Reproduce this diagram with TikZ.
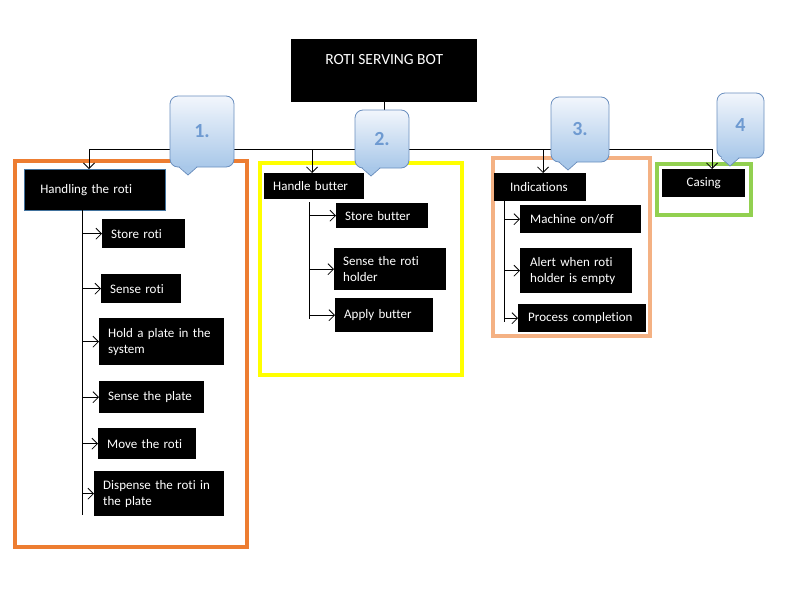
\documentclass[tikz,border=0pt]{standalone}
\usepackage{fontspec}
\setmainfont[RawFeature={-liga;-clig;-dlig;-calt}]{Carlito}
\usetikzlibrary{arrows.meta,positioning}

\definecolor{rotiorange}{HTML}{ED7D31}
\definecolor{butteryellow}{HTML}{FFFF00}
\definecolor{indpeach}{HTML}{F4B183}
\definecolor{casegreen}{HTML}{92D050}
\definecolor{tagedge}{HTML}{6A8FBF}
\definecolor{tagtop}{HTML}{F2F6FC}
\definecolor{tagbot}{HTML}{A9C8E9}
\definecolor{tagtext}{HTML}{6E9AD1}
\definecolor{handleedge}{HTML}{41719C}

\tikzset{
  blk/.style={fill=black, text=white, anchor=north west, align=left, text width=#1,
    inner xsep=9pt, inner ysep=2pt, font=\fontsize{13}{16}\selectfont},
  frame/.style={draw=#1, line width=4pt},
  link/.style={line width=0.8pt},
  arr/.style={link, -{Straight Barb[length=5.5pt,width=11pt]}},
  tagbody/.style={draw=tagedge, line width=0.8pt, top color=tagtop, bottom color=tagbot, rounded corners=8pt},
  tagnum/.style={text=tagtext, font=\bfseries\fontsize{20}{24}\selectfont}
}

\newcommand{\numtag}[6]{%
  \path[tagbody] (#1,#2) rectangle (#3,#4);
  \fill[tagbot] (#5-9,#4-1) -- (#5,#4+8) -- (#5+9,#4-1) -- cycle;
  \draw[draw=tagedge, line width=0.8pt, line join=round] (#5-9,#4) -- (#5,#4+8) -- (#5+9,#4);
  \node[tagnum] at ({(#1+#3)/2},{(#2+#4)/2}) {#6};}

\begin{document}
\begin{tikzpicture}[x=1pt, y=-1pt]
\useasboundingbox (0,0) rectangle (789,597);

\draw[frame=rotiorange] (14.7,161) rectangle (247,547);
\draw[frame=butteryellow] (260,162.5) rectangle (461.5,374.5);
\draw[frame=indpeach] (492.7,158) rectangle (650.3,336.3);
\draw[frame=casegreen] (656.7,163.7) rectangle (751.3,215.3);

\node[fill=black, text=white, anchor=north west, minimum width=186pt, inner ysep=0pt,
  text height=25pt, text depth=38pt, font=\fontsize{15.5}{18}\selectfont] (title) at (291,39) {ROTI SERVING BOT};

\node[blk=109pt, inner xsep=16pt, minimum height=41pt, draw=handleedge, line width=0.6pt] (handle) at (24,169) {Handling the roti};
\node[blk=65pt, minimum height=29pt] (sroti) at (102,219) {Store roti};
\node[blk=62pt, minimum height=29pt] (senroti) at (101,274) {Sense roti};
\node[blk=107pt, minimum height=47pt] (hold) at (99,318) {Hold a plate in the system};
\node[blk=87pt, minimum height=32pt] (senplate) at (99,381) {Sense the plate};
\node[blk=80pt, minimum height=31pt] (move) at (98,428) {Move the roti};
\node[blk=112pt, minimum height=45pt] (disp) at (94,471) {Dispense the roti in the plate};

\node[blk=82pt, minimum height=26pt] (hbutter) at (264,173) {Handle butter};
\node[blk=74pt, minimum height=25pt] (sbutter) at (336,203) {Store butter};
\node[blk=94pt, minimum height=42pt] (senhold) at (334,248) {Sense the roti holder};
\node[blk=80pt, minimum height=34pt] (abutter) at (335,298) {Apply butter};

\node[blk=60pt, inner xsep=16pt, minimum height=28pt] (ind) at (494,173) {Indications};
\node[blk=101pt, inner xsep=10pt, minimum height=28pt] (onoff) at (520,205) {Machine on/off};
\node[blk=92pt, inner xsep=10pt, minimum height=45pt] (alert) at (520,248) {Alert when roti holder is empty};
\node[blk=108pt, inner xsep=10pt, minimum height=28pt] (done) at (518,304) {Process completion};

\node[fill=black, text=white, anchor=north west, minimum width=83pt, minimum height=28pt,
  font=\fontsize{13}{16}\selectfont] (casing) at (662,169) {Casing};

\coordinate (j1) at (89,149);
\coordinate (j2) at (312,149);
\coordinate (j3) at (543,149);
\coordinate (j4) at (712,149);
\draw[link] (j1) -- (j4);
\draw[link] (title.south) -- (title.south |- j1);
\draw[arr] (j1) -- (j1 |- handle.north);
\draw[arr] (j2) -- (j2 |- hbutter.north);
\draw[arr] (j3) -- (j3 |- ind.north);
\draw[arr] (j4) -- (j4 |- casing.north);

\coordinate (t1) at (82,210);
\coordinate (t1e) at (82,515);
\draw[link] (t1) -- (t1e);
\foreach \leaf in {sroti,senroti,hold,senplate,move,disp}
  \draw[arr] (t1 |- \leaf.west) -- (\leaf.west);

\coordinate (t2) at (309,202);
\coordinate (t2e) at (309,319);
\draw[link] (t2) -- (t2e);
\foreach \leaf in {sbutter,senhold,abutter}
  \draw[arr] (t2 |- \leaf.west) -- (\leaf.west);

\coordinate (t3) at (504,201);
\coordinate (t3e) at (504,322);
\draw[link] (t3) -- (t3e);
\foreach \leaf in {onoff,alert,done}
  \draw[arr] (t3 |- \leaf.west) -- (\leaf.west);

\numtag{170}{96}{234}{167}{188}{1.}
\numtag{355}{110}{409}{168}{371}{2.}
\numtag{551}{97}{609}{162}{568}{3.}
\numtag{717}{93}{764}{158}{730}{4}
\end{tikzpicture}
\end{document}
